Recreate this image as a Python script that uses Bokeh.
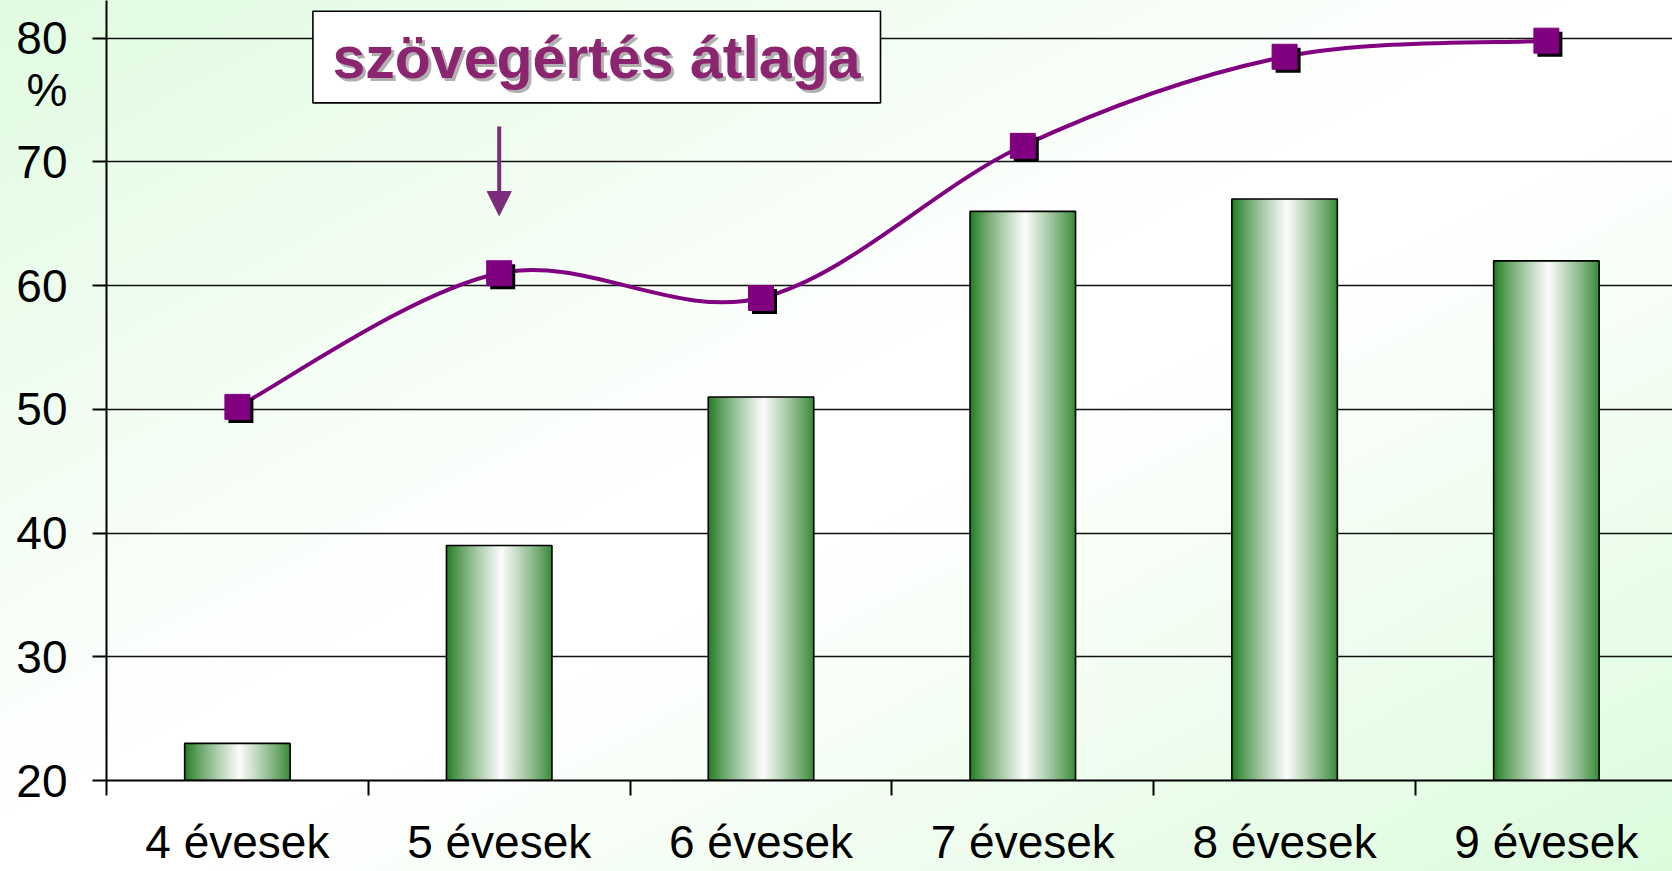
import numpy as np
from bokeh.plotting import figure
from bokeh.models import (Range1d, FixedTicker, ColumnDataSource, Label,
                          BoxAnnotation, Arrow, NormalHead)
from bokeh.transform import dodge
from bokeh.embed import file_html
from bokeh.resources import INLINE

# ---------------- data ----------------
categories = ["4 évesek", "5 évesek", "6 évesek", "7 évesek", "8 évesek", "9 évesek"]
bar_values = [23, 39, 51, 66, 67, 62]
line_values = [50.2, 61.0, 59.0, 71.3, 78.5, 79.8]
y_ticks = [20, 30, 40, 50, 60, 70, 80]
title_text = "szövegértés átlaga"
unit_text = "%"
unit_pos = 75.8

FONT = "Liberation Sans"
BASE = 20
PX_X = 261.8   # px per category
PX_Y = 12.37   # px per percent
LEFT = 106
W, H = 1672, 871

xs = [i + 0.5 for i in range(len(categories))]

p = figure(width=W, height=H, output_backend="svg", toolbar_location=None,
           x_range=Range1d(0, (W - LEFT) / PX_X), y_range=Range1d(BASE, 80 + 37.7 / PX_Y),
           min_border_left=LEFT, min_border_right=0, min_border_top=0, min_border_bottom=91)
p.border_fill_color = None
p.background_fill_color = None
p.outline_line_color = None
p.styles = {"background": "linear-gradient(to bottom right, #e0fbe0 0%, #ffffff 47%, #ffffff 56%, #dcfbdc 100%)"}

# grid
p.xgrid.visible = False
p.ygrid.ticker = FixedTicker(ticks=y_ticks)
p.ygrid.grid_line_color = "#111111"
p.ygrid.grid_line_width = 1.6

# bars with horizontal gradient, drawn as thin overlapping strips
N = 64
bw = 0.403
dark = np.array([0x1e, 0x7a, 0x1e], dtype=float)
light = np.array([0xfc, 0xfc, 0xfc], dtype=float)
L, R, T, B, C = [], [], [], [], []
for c, v in zip(xs, bar_values):
    for k in range(N):
        fm = (k + 0.5) / N
        d = 1 - abs(fm - 0.52) / 0.52
        d = max(0.0, min(1.0, d)) ** 0.85
        col = dark + (light - dark) * d
        L.append(c - bw / 2 + k / N * bw)
        R.append(c - bw / 2 + min(N, k + 1.7) / N * bw)
        T.append(v)
        B.append(BASE)
        C.append("#%02x%02x%02x" % tuple(int(round(t)) for t in col))
p.quad(left=L, right=R, top=T, bottom=B, fill_color=C, line_color=None)
p.quad(left=[c - bw / 2 for c in xs], right=[c + bw / 2 for c in xs],
       top=bar_values, bottom=[BASE] * len(xs),
       fill_color=None, line_color="black", line_width=1.6)

# smoothed line (Catmull-Rom style bezier through the data points)
P = list(zip(xs, line_values))
n = len(P)
seg = dict(x0=[], y0=[], x1=[], y1=[], cx0=[], cy0=[], cx1=[], cy1=[])
for i in range(n - 1):
    pm = P[i - 1] if i > 0 else P[i]
    p0, p1 = P[i], P[i + 1]
    p2 = P[i + 2] if i + 2 < n else P[i + 1]
    seg["x0"].append(p0[0]); seg["y0"].append(p0[1])
    seg["x1"].append(p1[0]); seg["y1"].append(p1[1])
    seg["cx0"].append(p0[0] + (p1[0] - pm[0]) / 6)
    seg["cy0"].append(p0[1] + (p1[1] - pm[1]) / 6)
    seg["cx1"].append(p1[0] - (p2[0] - p0[0]) / 6)
    seg["cy1"].append(p1[1] - (p2[1] - p0[1]) / 6)
p.bezier(source=ColumnDataSource(seg), x0="x0", y0="y0", x1="x1", y1="y1",
         cx0="cx0", cy0="cy0", cx1="cx1", cy1="cy1",
         line_color="#800080", line_width=4)

src = ColumnDataSource(dict(x=xs, y=line_values))
p.scatter(x=dodge("x", 3.5 / PX_X), y=dodge("y", -3.5 / PX_Y), source=src,
          marker="square", size=25, fill_color="black", line_color=None)
p.scatter(x="x", y="y", source=src, marker="square", size=25,
          fill_color="#800080", line_color="#800080")

# axes
yax = p.yaxis[0]
yax.ticker = FixedTicker(ticks=y_ticks + [unit_pos], minor_ticks=y_ticks)
yax.major_label_overrides = {unit_pos: unit_text}
yax.major_tick_out = 14
yax.major_tick_in = 0
yax.major_tick_line_color = None
yax.minor_tick_out = 14
yax.minor_tick_in = 0
yax.minor_tick_line_color = "black"
yax.minor_tick_line_width = 2
yax.axis_line_color = "black"
yax.axis_line_width = 2
yax.major_label_text_font = FONT
yax.major_label_text_font_size = "46px"
yax.major_label_text_color = "black"
yax.major_label_standoff = 25

xax = p.xaxis[0]
xax.ticker = FixedTicker(ticks=xs, minor_ticks=list(range(0, len(xs))))
xax.major_label_overrides = {x: c for x, c in zip(xs, categories)}
xax.major_tick_out = 0
xax.major_tick_in = 0
xax.major_tick_line_color = None
xax.minor_tick_out = 15
xax.minor_tick_in = 0
xax.minor_tick_line_color = "black"
xax.minor_tick_line_width = 2
xax.axis_line_color = "black"
xax.axis_line_width = 2
xax.major_label_text_font = FONT
xax.major_label_text_font_size = "46px"
xax.major_label_text_color = "black"
xax.major_label_standoff = 20

# title box
p.add_layout(BoxAnnotation(left=(312.4 - LEFT) / PX_X, right=(880 - LEFT) / PX_X,
                           top=80 + (37.7 - 10.7) / PX_Y, bottom=80 - (102.4 - 37.7) / PX_Y,
                           fill_color="white", fill_alpha=1,
                           line_color="black", line_alpha=1, line_width=1.6))
tx = (596 - LEFT) / PX_X
ty = 80 - (57 - 37.7) / PX_Y
p.add_layout(Label(x=tx, y=ty, text=title_text, x_offset=3, y_offset=-3,
                   text_align="center", text_baseline="middle",
                   text_font=FONT, text_font_size="59px", text_font_style="bold",
                   text_color="#b0b0b0"))
p.add_layout(Label(x=tx, y=ty, text=title_text,
                   text_align="center", text_baseline="middle",
                   text_font=FONT, text_font_size="59px", text_font_style="bold",
                   text_color="#8b2570"))

# arrow pointing at 5 évesek
p.add_layout(Arrow(x_start=xs[1], y_start=80 - (126 - 37.7) / PX_Y,
                   x_end=xs[1], y_end=80 - (215 - 37.7) / PX_Y,
                   line_color="#7b2d7b", line_width=4,
                   end=NormalHead(size=24, fill_color="#7b2d7b", line_color="#7b2d7b")))

open("out.html", "w").write(file_html(p, INLINE))
